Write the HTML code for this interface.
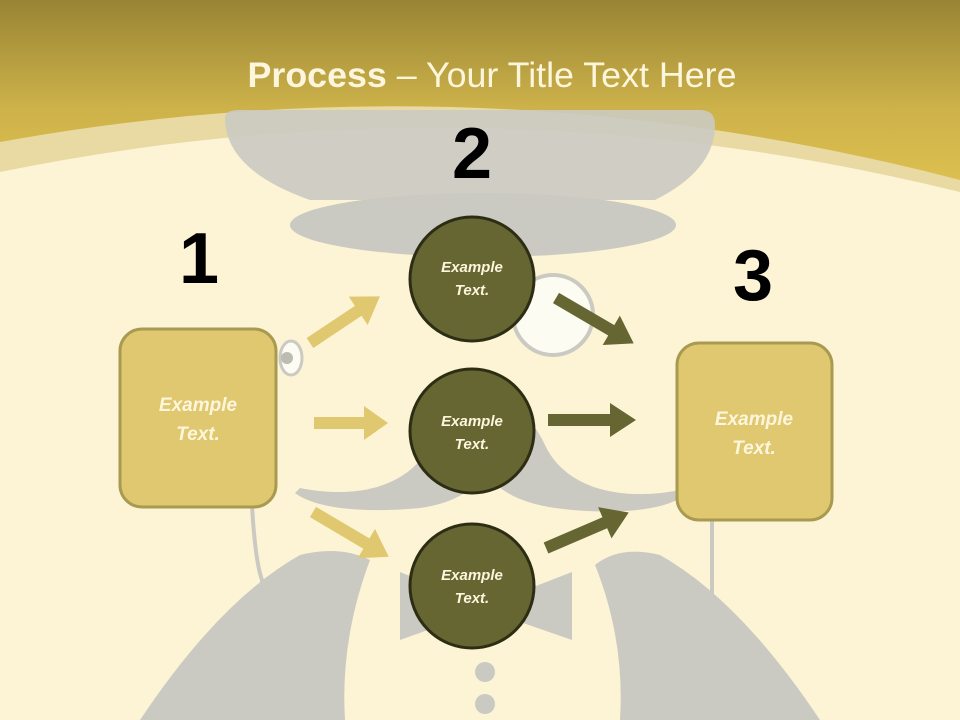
<!DOCTYPE html>
<html><head><meta charset="utf-8"><style>
html,body{margin:0;padding:0;width:960px;height:720px;overflow:hidden;background:#fcf4d4}
svg{display:block}
text{font-family:"Liberation Sans",sans-serif}
</style></head><body>
<svg width="960" height="720" viewBox="0 0 960 720" xmlns="http://www.w3.org/2000/svg">
<defs>
<linearGradient id="band" x1="0" y1="0" x2="0" y2="1">
<stop offset="0" stop-color="#988434"/><stop offset="0.6" stop-color="#cdb24a"/><stop offset="1" stop-color="#dcbf50"/>
</linearGradient>
</defs>
<rect width="960" height="720" fill="#fcf4d4"/>
<!-- light strip -->
<path d="M0 0 H960 V192 Q480 74 0 172 Z" fill="#e9d9a2"/>
<!-- band -->
<path d="M0 0 H960 V180 Q480 55 0 142 Z" fill="url(#band)"/>
<!-- hat -->
<path d="M225 118 Q225 110 240 110 L700 110 Q715 110 715 125 Q715 170 655 200 L310 200 Q225 170 225 118 Z" fill="#cbcac2" opacity="0.9"/>
<ellipse cx="483" cy="225" rx="193" ry="32" fill="#cbcac2"/>
<!-- monocle -->
<circle cx="553" cy="315" r="40" fill="#fdfcf2" stroke="#cbcac2" stroke-width="4"/>
<ellipse cx="291" cy="358" rx="11" ry="17" fill="#fdfcf2" stroke="#cbcac2" stroke-width="3"/>
<circle cx="287" cy="358" r="6" fill="#bdbcb4"/>
<!-- strings -->
<path d="M252 505 Q255 560 262 580 L262 720" stroke="#cbcac2" stroke-width="4" fill="none"/>
<path d="M712 520 L712 720" stroke="#cbcac2" stroke-width="4" fill="none"/>
<!-- mustache -->
<path d="M485 410 C465 398 445 412 430 445 C410 485 360 500 300 488 L295 493 C320 512 380 512 420 508 C455 503 475 490 485 470 C495 490 520 503 555 508 C600 514 660 514 685 495 L680 490 C620 502 565 488 545 445 C530 412 505 398 485 410 Z" fill="#cbcac2"/>
<!-- jacket -->
<path d="M140 720 Q220 600 300 555 Q340 545 370 560 Q340 640 345 720 Z" fill="#cbcac2"/>
<path d="M820 720 Q740 600 660 555 Q620 545 595 565 Q625 640 620 720 Z" fill="#cbcac2"/>
<!-- bow tie -->
<path d="M400 572 L470 600 L470 615 L400 640 Z" fill="#cbcac2"/>
<path d="M572 572 L500 600 L500 615 L572 640 Z" fill="#cbcac2"/>
<circle cx="485" cy="672" r="10" fill="#cbcac2"/>
<circle cx="485" cy="704" r="10" fill="#cbcac2"/>
<!-- title -->
<text x="492" y="87" text-anchor="middle" font-size="35" fill="#fdf6dc" textLength="489" lengthAdjust="spacingAndGlyphs"><tspan font-weight="bold">Process</tspan> – Your Title Text Here</text>
<!-- numbers -->
<text x="199" y="283" text-anchor="middle" font-size="72" font-weight="bold" fill="#000">1</text>
<text x="472" y="178" text-anchor="middle" font-size="72" font-weight="bold" fill="#000">2</text>
<text x="753" y="300" text-anchor="middle" font-size="72" font-weight="bold" fill="#000">3</text>
<!-- boxes -->
<rect x="120" y="329" width="156" height="178" rx="22" fill="#dfc870" stroke="#a89a50" stroke-width="3"/>
<rect x="677" y="343" width="155" height="177" rx="22" fill="#dfc870" stroke="#a89a50" stroke-width="3"/>
<g font-size="19" font-weight="bold" font-style="italic" fill="#fdf6dc" text-anchor="middle">
<text x="198" y="411">Example</text><text x="198" y="440">Text.</text>
<text x="754" y="425">Example</text><text x="754" y="454">Text.</text>
</g>
<!-- arrows -->
<g fill="#e0c870">
<polygon points="0,-6 58,-6 58,-17 84,0 58,17 58,6 0,6" transform="translate(310,343) rotate(-33.7)"/>
<polygon points="0,-6 50,-6 50,-17 74,0 50,17 50,6 0,6" transform="translate(314,423)"/>
<polygon points="0,-6 62,-6 62,-17 88,0 62,17 62,6 0,6" transform="translate(313,512) rotate(30.6)"/>
</g>
<g fill="#666633">
<polygon points="0,-6 64,-6 64,-17 90,0 64,17 64,6 0,6" transform="translate(556,298) rotate(30.3)"/>
<polygon points="0,-6 62,-6 62,-17 88,0 62,17 62,6 0,6" transform="translate(548,420)"/>
<polygon points="0,-6 64,-6 64,-17 90,0 64,17 64,6 0,6" transform="translate(546,548) rotate(-23.2)"/>
</g>
<!-- circles -->
<g fill="#666633" stroke="#2d2d14" stroke-width="3">
<circle cx="472" cy="279" r="62"/>
<circle cx="472" cy="431" r="62"/>
<circle cx="472" cy="586" r="62"/>
</g>
<g font-size="15" font-weight="bold" font-style="italic" fill="#fdf6dc" text-anchor="middle">
<text x="472" y="272">Example</text><text x="472" y="295">Text.</text>
<text x="472" y="426">Example</text><text x="472" y="449">Text.</text>
<text x="472" y="580">Example</text><text x="472" y="603">Text.</text>
</g>
</svg>
</body></html>
